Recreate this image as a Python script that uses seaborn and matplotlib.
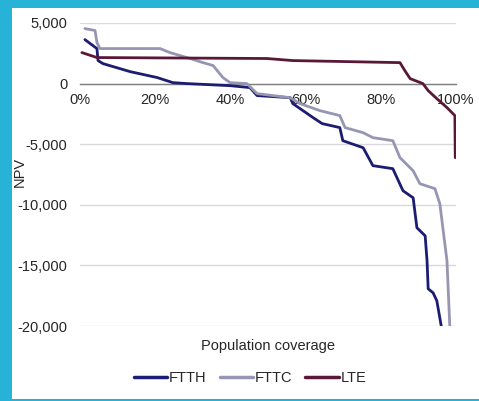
import pandas as pd
import matplotlib.pyplot as plt
import matplotlib.patches as mpatches
from matplotlib.ticker import FuncFormatter
import seaborn as sns

# Data (population coverage %, NPV)
ftth_x = [1.3, 4.5, 4.8, 6.1, 13.3, 20.5, 24.7, 28.5, 39.9, 45.2, 47.1, 55.9, 56.6,
          62.0, 64.4, 69.1, 69.9, 75.3, 77.9, 83.2, 85.9, 88.6, 89.6, 91.8, 92.3,
          92.6, 93.9, 94.9, 96.3]
ftth_y = [3630, 2890, 1900, 1650, 990, 500, 80, 0, -170, -330, -990, -1160, -1650,
          -2810, -3300, -3630, -4710, -5290, -6770, -7020, -8840, -9420, -11890,
          -12560, -14620, -16930, -17260, -17920, -20400]

fttc_x = [1.3, 4.0, 4.5, 5.3, 21.3, 23.9, 29.3, 32.7, 35.4, 38.0, 39.9, 44.4, 47.1,
          55.9, 58.5, 63.8, 69.1, 70.5, 75.3, 77.9, 83.2, 85.1, 88.6, 90.4, 94.4,
          95.7, 96.5, 97.6, 98.4]
fttc_y = [4540, 4380, 3390, 2890, 2890, 2560, 2070, 1730, 1490, 500, 80, 0, -830,
          -1160, -1650, -2230, -2640, -3630, -4050, -4460, -4710, -6110, -7190,
          -8260, -8670, -9910, -11890, -14620, -20400]

lte_x = [0.5, 4.5, 49.7, 56.6, 85.1, 86.4, 87.8, 91.2, 92.6, 94.9, 97.6, 99.7, 99.8]
lte_y = [2560, 2150, 2070, 1900, 1730, 1070, 410, 0, -580, -1240, -1980, -2640, -6110]

series = ["FTTH", "FTTC", "LTE"]
colors = ["#1c1c72", "#9696b4", "#5a1838"]

df = pd.concat([
    pd.DataFrame({"coverage": ftth_x, "npv": ftth_y, "tech": "FTTH"}),
    pd.DataFrame({"coverage": fttc_x, "npv": fttc_y, "tech": "FTTC"}),
    pd.DataFrame({"coverage": lte_x, "npv": lte_y, "tech": "LTE"}),
])

sns.set_style("white")
plt.rcParams["font.family"] = ["Liberation Sans", "DejaVu Sans"]

fig = plt.figure(figsize=(4.79, 4.01), dpi=100, facecolor="#27b2d8")
# white chart card on the blue slide background
fig.patches.append(mpatches.Rectangle((12 / 479, 2 / 401), 1, 391 / 401,
                                      transform=fig.transFigure,
                                      facecolor="white", edgecolor="none", zorder=-10))

ax = fig.add_axes([80 / 479, 1 - 326 / 401, 376 / 479, 303 / 401])
ax.set_facecolor("white")

sns.lineplot(data=df, x="coverage", y="npv", hue="tech", hue_order=series,
             palette=colors, sort=False, estimator=None, linewidth=2.0,
             legend=False, ax=ax, zorder=3)

ax.set_xlim(0, 100)
ax.set_ylim(-20000, 5000)
ax.set_yticks(range(-20000, 5001, 5000))
ax.set_xticks(range(0, 101, 20))
ax.yaxis.set_major_formatter(FuncFormatter(lambda v, p: f"{int(v):,}"))
ax.xaxis.set_major_formatter(FuncFormatter(lambda v, p: f"{int(v)}%"))

ax.grid(axis="y", color="#d9d9d9", linewidth=1.0)
ax.grid(axis="x", visible=False)
for s in ["top", "right", "left"]:
    ax.spines[s].set_visible(False)
ax.spines["bottom"].set_position(("data", 0))
ax.spines["bottom"].set_color("#7f7f7f")
ax.spines["bottom"].set_linewidth(1.0)
ax.spines["bottom"].set_zorder(2)

ax.tick_params(axis="both", length=0, labelsize=10.5, labelcolor="#262626")
ax.tick_params(axis="x", pad=7)
ax.tick_params(axis="y", pad=9)

ax.set_xlabel("")
ax.set_ylabel("")
fig.text(20 / 479, 1 - 172 / 401, "NPV", rotation=90, ha="center", va="center",
         fontsize=10.5, color="#262626")
fig.text(268 / 479, 1 - 346 / 401, "Population coverage", ha="center", va="center",
         fontsize=10.5, color="#262626")

handles = [plt.Line2D([], [], color=c, linewidth=2.5) for c in colors]
fig.legend(handles, series, loc="center", bbox_to_anchor=(250 / 479, 1 - 378 / 401),
           ncol=3, frameon=False, fontsize=10.5, handlelength=2.3, handletextpad=0.1,
           columnspacing=0.9, labelcolor="#262626")

fig.savefig("out.png", dpi=100, facecolor=fig.get_facecolor())
